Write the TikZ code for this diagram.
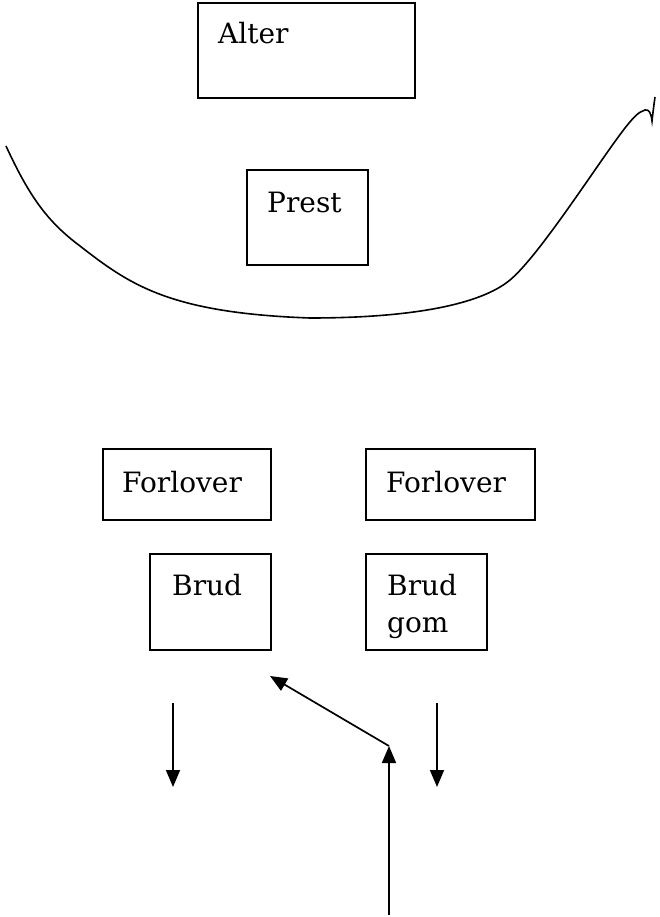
\documentclass[tikz,border=0pt]{standalone}
\usepackage{fontspec}
\setmainfont{DejaVu Serif}
\usetikzlibrary{positioning,arrows.meta}
\begin{document}
\begin{tikzpicture}[x=1pt, y=-1pt]
        \tikzstyle{box}=[draw, rectangle, line width=1.6pt, anchor=north west, inner sep=0pt]
        \tikzstyle{lbl}=[inner sep=0pt, text height=21pt, font=\fontsize{28}{37}\selectfont, align=left]
        \tikzstyle{arr}=[line width=1.7pt, -{Triangle[length=17pt,width=14pt]}]
        \useasboundingbox (0,0) rectangle (660,917);
        % boxes
        \node [box, minimum width=217pt, minimum height=95pt] (alter) at (197,2) {};
        \node [box, minimum width=121pt, minimum height=95pt] (prest) at (246,169) {};
        \node [box, minimum width=168pt, minimum height=71pt] (forloverv) at (102,448) {};
        \node [box, minimum width=169pt, minimum height=71pt] (forloverh) at (365,448) {};
        \node [box, minimum width=121pt, minimum height=96pt] (brud) at (149,553) {};
        \node [box, minimum width=121pt, minimum height=96pt] (brudgom) at (365,553) {};
        % texts
        \node [lbl, below right=20pt and 21pt of alter.north west] (alterlbl) {Alter};
        \node [lbl, below right=22pt and 21pt of prest.north west] (prestlbl) {Prest};
        \node [lbl, below right=23pt and 20pt of forloverv.north west] (forlovervlbl) {Forlover};
        \node [lbl, below right=23pt and 21pt of forloverh.north west] (forloverhlbl) {Forlover};
        \node [lbl, below right=21pt and 23pt of brud.north west] (brudlbl) {Brud};
        \node [lbl, text width=90pt, below right=21pt and 22pt of brudgom.north west] (brudgomlbl) {Brud\\gom};
        % curve
        \draw [line width=1.6pt] (6,146) .. controls (30,198) and (48,222) .. (80,246)
              .. controls (130,285) and (170,313) .. (310,318)
              .. controls (410,318) and (480,305) .. (510,280)
              .. controls (540,255) and (600,160) .. (625,128)
              .. controls (633,118) and (638,112) .. (645,110)
              .. controls (649,109) and (651,113) .. (652,121) .. controls (653,112) and (654,104) .. (655,97);
        % arrows
        \coordinate (venstre1) at (173,703);
        \coordinate (venstre2) at (173,787);
        \coordinate (hoyre1) at (437,703);
        \coordinate (hoyre2) at (437,787);
        \coordinate (midt1) at (389,915);
        \coordinate (midt2) at (389,746);
        \coordinate (midt3) at (270,676);
        \draw [arr] (venstre1) -- (venstre2);
        \draw [arr] (hoyre1) -- (hoyre2);
        \draw [arr] (midt1) -- (midt2);
        \draw [arr] (midt2) -- (midt3);
\end{tikzpicture}
\end{document}
